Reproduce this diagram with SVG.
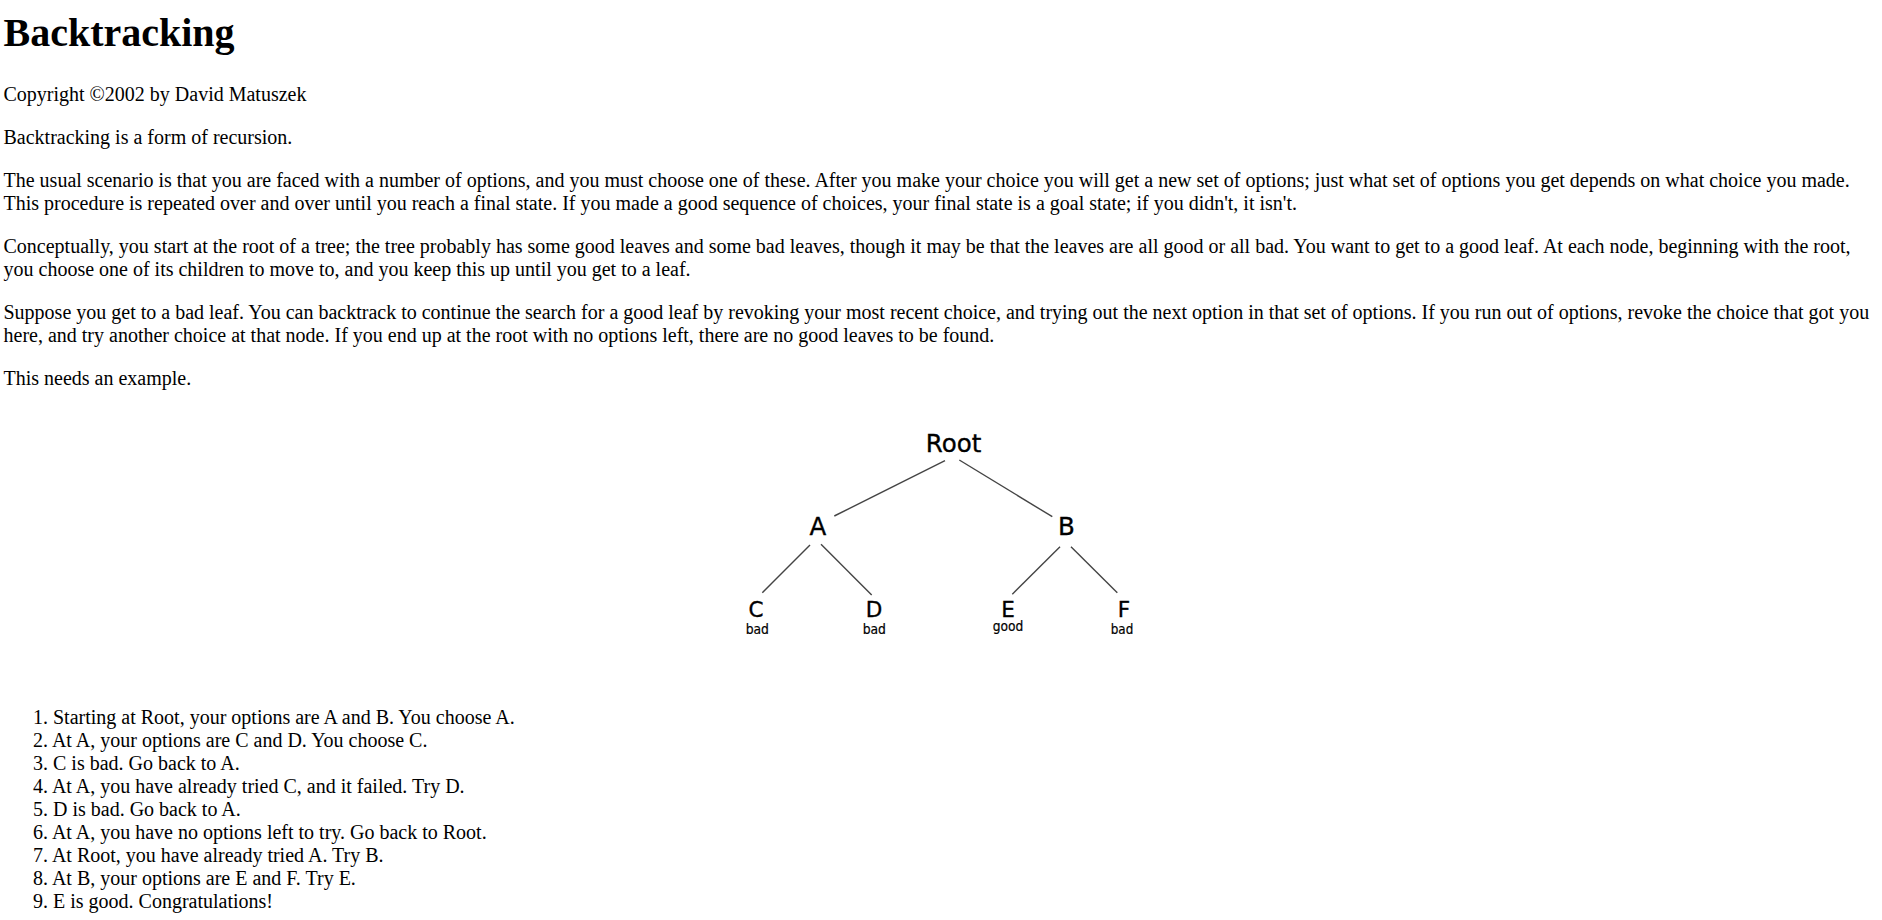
<svg xmlns="http://www.w3.org/2000/svg" width="1882" height="920" viewBox="0 0 1882 920">
<style>
.t{font-family:"Liberation Serif","Times New Roman",serif;font-size:20px;fill:#000}
.h{font-family:"Liberation Serif","Times New Roman",serif;font-size:40px;font-weight:bold;fill:#000}
.n{font-family:"DejaVu Sans","Liberation Sans",sans-serif;fill:#000;stroke:#000;stroke-width:0.35;text-anchor:middle}
.top{font-size:24.5px}
.leaf{font-size:21.5px}
.lab{font-size:13.5px;stroke-width:0.2}
.e{stroke:#444;stroke-width:1.4;fill:none}
</style>
<rect width="1882" height="920" fill="#fff"/>
<g id="text">
<text class="h" x="3.5" y="45.5">Backtracking</text>
<text class="t" x="3.5" y="100.5">Copyright ©2002 by David Matuszek</text>
<text class="t" x="3.5" y="143.5">Backtracking is a form of recursion.</text>
<text class="t" x="3.5" y="186.5">The usual scenario is that you are faced with a number of options, and you must choose one of these. After you make your choice you will get a new set of options; just what set of options you get depends on what choice you made.</text>
<text class="t" x="3.5" y="209.5">This procedure is repeated over and over until you reach a final state. If you made a good sequence of choices, your final state is a goal state; if you didn't, it isn't.</text>
<text class="t" x="3.5" y="252.5">Conceptually, you start at the root of a tree; the tree probably has some good leaves and some bad leaves, though it may be that the leaves are all good or all bad. You want to get to a good leaf. At each node, beginning with the root,</text>
<text class="t" x="3.5" y="275.5">you choose one of its children to move to, and you keep this up until you get to a leaf.</text>
<text class="t" x="3.5" y="318.5">Suppose you get to a bad leaf. You can backtrack to continue the search for a good leaf by revoking your most recent choice, and trying out the next option in that set of options. If you run out of options, revoke the choice that got you</text>
<text class="t" x="3.5" y="341.5">here, and try another choice at that node. If you end up at the root with no options left, there are no good leaves to be found.</text>
<text class="t" x="3.5" y="384.5">This needs an example.</text>
</g>
<g id="connectors">
<line class="e" x1="945" y1="460.7" x2="834.3" y2="516"/>
<line class="e" x1="959.3" y1="460" x2="1052.3" y2="516.7"/>
<line class="e" x1="810" y1="545" x2="762.3" y2="592.7"/>
<line class="e" x1="821" y1="544.3" x2="871.7" y2="595"/>
<line class="e" x1="1060" y1="546.7" x2="1012.3" y2="594.3"/>
<line class="e" x1="1071" y1="546.7" x2="1117.3" y2="592.7"/>
</g>
<g id="node-root"><text class="n top" x="953.5" y="452">Root</text></g>
<g id="node-a"><text class="n top" x="818" y="535">A</text></g>
<g id="node-b"><text class="n top" x="1066.5" y="535">B</text></g>
<g id="node-c"><text class="n leaf" x="756" y="616.7">C</text><text class="n lab" x="757.3" y="634.3" textLength="23.3" lengthAdjust="spacingAndGlyphs">bad</text></g>
<g id="node-d"><text class="n leaf" x="874" y="616.7">D</text><text class="n lab" x="874.3" y="634.3" textLength="23.3" lengthAdjust="spacingAndGlyphs">bad</text></g>
<g id="node-e"><text class="n leaf" x="1008" y="616.7">E</text><text class="n lab" x="1008" y="630.7" textLength="30.6" lengthAdjust="spacingAndGlyphs">good</text></g>
<g id="node-f"><text class="n leaf" x="1124" y="616.7">F</text><text class="n lab" x="1122" y="634.3" textLength="22.6" lengthAdjust="spacingAndGlyphs">bad</text></g>
<g id="list">
<text class="t" x="33" y="724">1. Starting at Root, your options are A and B. You choose A.</text>
<text class="t" x="33" y="747">2. At A, your options are C and D. You choose C.</text>
<text class="t" x="33" y="770">3. C is bad. Go back to A.</text>
<text class="t" x="33" y="793">4. At A, you have already tried C, and it failed. Try D.</text>
<text class="t" x="33" y="816">5. D is bad. Go back to A.</text>
<text class="t" x="33" y="839">6. At A, you have no options left to try. Go back to Root.</text>
<text class="t" x="33" y="862">7. At Root, you have already tried A. Try B.</text>
<text class="t" x="33" y="885">8. At B, your options are E and F. Try E.</text>
<text class="t" x="33" y="908">9. E is good. Congratulations!</text>
</g>
</svg>
